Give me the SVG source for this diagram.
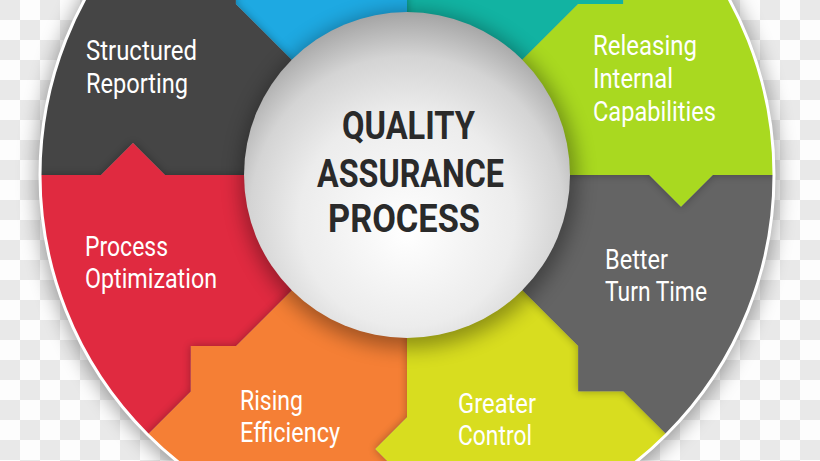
<svg xmlns="http://www.w3.org/2000/svg" xmlns:xlink="http://www.w3.org/1999/xlink" width="820" height="461" viewBox="0 0 820 461">
  <defs>
    <pattern id="checker" width="40" height="40" patternUnits="userSpaceOnUse">
      <rect width="40" height="40" fill="#fdfdfd"/>
      <rect width="20" height="20" fill="#e9e9e9"/>
      <rect x="20" y="20" width="20" height="20" fill="#e9e9e9"/>
    </pattern>
    <clipPath id="disc"><circle cx="407" cy="175" r="367"/></clipPath>
    <filter id="blur6" x="-20%" y="-20%" width="140%" height="140%"><feGaussianBlur stdDeviation="6"/></filter>
    <filter id="blur4" x="-20%" y="-20%" width="140%" height="140%"><feGaussianBlur stdDeviation="4"/></filter>
    <filter id="blur10" x="-30%" y="-30%" width="160%" height="160%"><feGaussianBlur stdDeviation="10"/></filter>
    <radialGradient id="sphere" cx="0.5" cy="0.6" r="0.6" fx="0.5" fy="0.68">
      <stop offset="0" stop-color="#ffffff"/>
      <stop offset="0.55" stop-color="#ececec"/>
      <stop offset="0.8" stop-color="#d4d4d4"/>
      <stop offset="0.95" stop-color="#b0b0b0"/>
      <stop offset="1" stop-color="#a4a4a4"/>
    </radialGradient>
    <polygon id="p-gray" points="407,175 649,175 681,207 713,175 1007,175 831.3,599.3 623.4,391.4 578.1,391.4 578.1,346.1"/>
    <polygon id="p-yellow" points="407,175 578.1,346.1 578.1,391.4 623.4,391.4 831.3,599.3 407,775 407,481 375,449 407,417"/>
    <polygon id="p-orange" points="407,175 407,417 375,449 407,481 407,775 -17.3,599.3 190.6,391.4 190.7,346.1 235.9,346.1"/>
    <polygon id="p-red" points="407,175 235.9,346.1 190.7,346.1 190.6,391.4 -17.3,599.3 -193,175 101,175 133,143 165,175"/>
    <polygon id="p-dark" points="407,175 165,175 133,143 101,175 -193,175 -17.3,-249.3 190.6,-41.4 235.9,-41.3 235.9,3.9"/>
    <polygon id="p-blue" points="407,175 235.9,3.9 235.9,-41.3 190.6,-41.4 -17.3,-249.3 407,-425 407,-131 439,-99 407,-67"/>
    <polygon id="p-teal" points="407,175 407,-67 439,-99 407,-131 407,-425 831.3,-249.3 623.4,-41.4 623.3,3.9 578.1,3.9"/>
    <polygon id="p-lime" points="407,175 578.1,3.9 623.3,3.9 623.4,-41.4 831.3,-249.3 1007,175 713,175 681,207 649,175"/>
    <clipPath id="c-gray"><use xlink:href="#p-gray"/></clipPath>
    <clipPath id="c-yellow"><use xlink:href="#p-yellow"/></clipPath>
    <clipPath id="c-orange"><use xlink:href="#p-orange"/></clipPath>
    <clipPath id="c-red"><use xlink:href="#p-red"/></clipPath>
    <clipPath id="c-dark"><use xlink:href="#p-dark"/></clipPath>
    <clipPath id="c-blue"><use xlink:href="#p-blue"/></clipPath>
    <clipPath id="c-teal"><use xlink:href="#p-teal"/></clipPath>
  </defs>
  <style>
    .lbl { font-family: Roboto, "Liberation Sans", Arial, sans-serif; font-size: 27px; fill: #ffffff; }
    .title { font-family: Roboto, "Liberation Sans", Arial, sans-serif; font-size: 38px; font-weight: 700; fill: #2a2a2a; }
    .shadow { fill: #000000; opacity: 0.3; filter: url(#blur4); }
  </style>

  <!-- background -->
  <rect width="820" height="461" fill="url(#checker)"/>
  <circle cx="407" cy="178" r="371" fill="#000" opacity="0.35" filter="url(#blur10)"/>

  <g clip-path="url(#disc)">
    <g id="structured-reporting"><use xlink:href="#p-dark" fill="#454545"/></g>
    <g id="blue-segment"><use xlink:href="#p-blue" fill="#1ea9e2"/></g>
    <g id="teal-segment"><use xlink:href="#p-teal" fill="#12b3a2"/></g>
    <g id="releasing-internal-capabilities"><use xlink:href="#p-lime" fill="#a9d920"/></g>
    <g id="better-turn-time"><use xlink:href="#p-gray" fill="#646464"/></g>
    <g id="greater-control"><use xlink:href="#p-yellow" fill="#d8dd1f"/></g>
    <g id="rising-efficiency"><use xlink:href="#p-orange" fill="#f57f35"/></g>
    <g id="process-optimization"><use xlink:href="#p-red" fill="#e02a40"/></g>

    <!-- arrow shadows cast onto the following segment -->
    <g clip-path="url(#c-gray)"><use xlink:href="#p-lime" class="shadow"/></g>
    <g clip-path="url(#c-yellow)"><use xlink:href="#p-gray" class="shadow"/></g>
    <g clip-path="url(#c-orange)"><use xlink:href="#p-yellow" class="shadow"/></g>
    <g clip-path="url(#c-red)"><use xlink:href="#p-orange" class="shadow"/></g>
    <g clip-path="url(#c-dark)"><use xlink:href="#p-red" class="shadow"/></g>
    <g clip-path="url(#c-blue)"><use xlink:href="#p-dark" class="shadow"/></g>
    <g clip-path="url(#c-teal)"><use xlink:href="#p-blue" class="shadow"/></g>

    <!-- sphere shadow -->
    <circle cx="409" cy="180" r="168" fill="#000" opacity="0.35" filter="url(#blur10)"/>
  </g>

  <!-- rim -->
  <circle cx="407" cy="175" r="367" fill="none" stroke="#ffffff" stroke-width="3"/>

  <!-- labels -->
  <text class="lbl" x="86" y="60" textLength="111" lengthAdjust="spacingAndGlyphs">Structured</text>
  <text class="lbl" x="86" y="93" textLength="102" lengthAdjust="spacingAndGlyphs">Reporting</text>
  <text class="lbl" x="593" y="55" textLength="104" lengthAdjust="spacingAndGlyphs">Releasing</text>
  <text class="lbl" x="593" y="88" textLength="80" lengthAdjust="spacingAndGlyphs">Internal</text>
  <text class="lbl" x="593" y="121" textLength="123" lengthAdjust="spacingAndGlyphs">Capabilities</text>
  <text class="lbl" x="85" y="256" textLength="83" lengthAdjust="spacingAndGlyphs">Process</text>
  <text class="lbl" x="85" y="288" textLength="132" lengthAdjust="spacingAndGlyphs">Optimization</text>
  <text class="lbl" x="605" y="269" textLength="63" lengthAdjust="spacingAndGlyphs">Better</text>
  <text class="lbl" x="605" y="301" textLength="102" lengthAdjust="spacingAndGlyphs">Turn Time</text>
  <text class="lbl" x="240" y="410" textLength="63" lengthAdjust="spacingAndGlyphs">Rising</text>
  <text class="lbl" x="240" y="442" textLength="100" lengthAdjust="spacingAndGlyphs">Efficiency</text>
  <text class="lbl" x="458" y="413" textLength="78" lengthAdjust="spacingAndGlyphs">Greater</text>
  <text class="lbl" x="458" y="445" textLength="74" lengthAdjust="spacingAndGlyphs">Control</text>

  <!-- centre -->
  <g id="quality-assurance-process">
    <circle cx="407" cy="175" r="163" fill="url(#sphere)"/>
    <text class="title" x="342" y="139" textLength="133" lengthAdjust="spacingAndGlyphs">QUALITY</text>
    <text class="title" x="317" y="187" textLength="187" lengthAdjust="spacingAndGlyphs">ASSURANCE</text>
    <text class="title" x="328" y="232" textLength="152" lengthAdjust="spacingAndGlyphs">PROCESS</text>
  </g>
</svg>
